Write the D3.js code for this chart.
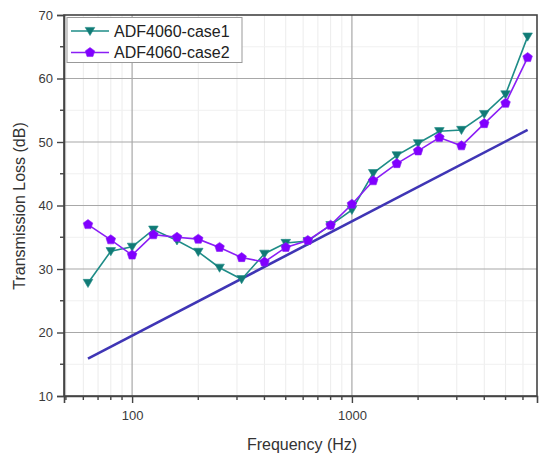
<!DOCTYPE html>
<html>
<head>
<meta charset="utf-8">
<script src="https://cdn.jsdelivr.net/npm/d3@7"></script>
<style>
  body { margin: 0; background: #fff; }
  text { font-family: "Liberation Sans", Arial, sans-serif; }
</style>
</head>
<body>
<svg id="chart" width="542" height="458"></svg>
<script>
// third-octave band centres (Hz)
let freqs = [63, 80, 100, 125, 160, 200, 250, 315, 400, 500, 630, 800, 1000, 1250, 1600, 2000, 2500, 3150, 4000, 5000, 6300];
let case1 = [27.8, 32.8, 33.5, 36.2, 34.5, 32.7, 30.2, 28.4, 32.4, 34.1, 34.4, 36.9, 39.3, 45.1, 47.9, 49.8, 51.7, 51.9, 54.4, 57.5, 66.6];
let case2 = [37.0, 34.6, 32.2, 35.4, 35.0, 34.7, 33.4, 31.8, 31.1, 33.4, 34.5, 36.9, 40.2, 43.9, 46.6, 48.6, 50.7, 49.4, 52.9, 56.1, 63.3];
let massFreqs = [63, 6300];
let massLaw = [15.9, 51.9];
let seriesNames = ['ADF4060-case1', 'ADF4060-case2'];
let yTicks = [10, 20, 30, 40, 50, 60, 70];
let xTickLabels = [100, 1000];

let margin = {left: 64, top: 15, right: 5, bottom: 62};
let W = 542, H = 458;
let svg = d3.select('#chart');

let x = d3.scaleLog().domain([49, 6950]).range([margin.left, W - margin.right]);
let y = d3.scaleLinear().domain([10, 70]).range([H - margin.bottom, margin.top]);

let minorX = [];
[10, 100, 1000].forEach(function(dec) {
	for (let k = 1; k <= 9; k++) {
		let v = dec * k;
		if (v > 49 && v < 6950 && k != 1) minorX.push(v);
	}
});
let minorY = [15, 25, 35, 45, 55, 65];

let grid = svg.append('g');
// minor grid
grid.selectAll('line.mx').data(minorX).enter().append('line')
	.attr('x1', d => x(d)).attr('x2', d => x(d))
	.attr('y1', y(10)).attr('y2', y(70))
	.attr('stroke', '#ececec').attr('stroke-width', 1);
grid.selectAll('line.my').data(minorY).enter().append('line')
	.attr('x1', x.range()[0]).attr('x2', x.range()[1])
	.attr('y1', d => y(d)).attr('y2', d => y(d))
	.attr('stroke', '#f0f0f0').attr('stroke-width', 1);
// major grid
grid.selectAll('line.gx').data(xTickLabels).enter().append('line')
	.attr('x1', d => x(d)).attr('x2', d => x(d))
	.attr('y1', y(10)).attr('y2', y(70))
	.attr('stroke', '#a8a8a8').attr('stroke-width', 1.2);
grid.selectAll('line.gy').data(yTicks.slice(1, -1)).enter().append('line')
	.attr('x1', x.range()[0]).attr('x2', x.range()[1])
	.attr('y1', d => y(d)).attr('y2', d => y(d))
	.attr('stroke', '#a8a8a8').attr('stroke-width', 1.2);

// mass law line
let line = d3.line().x(d => x(d[0])).y(d => y(d[1]));
svg.append('path')
	.attr('d', line(massFreqs.map((f, i) => [f, massLaw[i]])))
	.attr('fill', 'none').attr('stroke', '#3f35b5').attr('stroke-width', 2.6);

let colors = ['#1e8c87', '#8a1ef5'];
let markFill = ['#117a75', '#8000ff'];
let triDown = d3.symbol().type({draw: function(ctx, size) {
	let r = Math.sqrt(size) * 0.62;
	ctx.moveTo(-r, -r * 0.75);
	ctx.lineTo(r, -r * 0.75);
	ctx.lineTo(0, r * 0.95);
	ctx.closePath();
}}).size(60);
let pent = d3.symbol().type({draw: function(ctx, size) {
	let r = Math.sqrt(size) * 0.6;
	for (let i = 0; i < 5; i++) {
		let a = -Math.PI / 2 + i * 2 * Math.PI / 5;
		if (i == 0) ctx.moveTo(r * Math.cos(a), r * Math.sin(a));
		else ctx.lineTo(r * Math.cos(a), r * Math.sin(a));
	}
	ctx.closePath();
}}).size(70);
let shapes = [triDown, pent];

[case1, case2].forEach(function(vals, s) {
	let pts = freqs.map((f, i) => [f, vals[i]]);
	let g = svg.append('g');
	g.append('path').attr('d', line(pts))
		.attr('fill', 'none').attr('stroke', colors[s]).attr('stroke-width', 1.6);
	g.selectAll('path.m').data(pts).enter().append('path')
		.attr('d', shapes[s])
		.attr('transform', d => 'translate(' + x(d[0]) + ',' + y(d[1]) + ')')
		.attr('fill', markFill[s]).attr('stroke', colors[s]).attr('stroke-width', 0.6);
});

// frame
svg.append('rect')
	.attr('x', x.range()[0]).attr('y', y(70))
	.attr('width', x.range()[1] - x.range()[0]).attr('height', y(10) - y(70))
	.attr('fill', 'none').attr('stroke', '#444').attr('stroke-width', 1.6);

// axes
let xAxis = d3.axisBottom(x).tickValues(xTickLabels).tickFormat(d3.format('d')).tickSize(7).tickPadding(8);
let gx = svg.append('g').attr('transform', 'translate(0,' + y(10) + ')').call(xAxis);
gx.selectAll('.tick').data(minorX.concat([]), d => d);
svg.append('g').attr('transform', 'translate(0,' + y(10) + ')')
	.selectAll('line').data(minorX).enter().append('line')
	.attr('x1', d => x(d)).attr('x2', d => x(d)).attr('y1', 0).attr('y2', 4)
	.attr('stroke', '#444').attr('stroke-width', 1.4);

let yAxis = d3.axisLeft(y).tickValues(yTicks).tickSize(7).tickPadding(4);
let gy = svg.append('g').attr('transform', 'translate(' + x.range()[0] + ',0)').call(yAxis);
svg.append('g').attr('transform', 'translate(' + x.range()[0] + ',0)')
	.selectAll('line').data(minorY).enter().append('line')
	.attr('x1', 0).attr('x2', -4).attr('y1', d => y(d)).attr('y2', d => y(d))
	.attr('stroke', '#444').attr('stroke-width', 1.4);

[gx, gy].forEach(function(g) {
	g.select('.domain').attr('stroke', '#444').attr('stroke-width', 1.6);
	g.selectAll('.tick line').attr('stroke', '#444').attr('stroke-width', 1.4);
	g.selectAll('.tick text').attr('fill', '#3a3a3a').style('font-size', '13px')
		.style('font-family', '"Liberation Sans", Arial, sans-serif');
});

// titles
svg.append('text').attr('x', 302).attr('y', 450).attr('text-anchor', 'middle')
	.attr('fill', '#333').style('font-size', '16px').text('Frequency (Hz)');
svg.append('text').attr('transform', 'translate(25,206) rotate(-90)').attr('text-anchor', 'middle')
	.attr('fill', '#333').style('font-size', '16px').text('Transmission Loss (dB)');

// legend
let lg = svg.append('g');
lg.append('rect').attr('x', 67).attr('y', 17.5).attr('width', 175).attr('height', 45)
	.attr('fill', '#fff').attr('stroke', '#999').attr('stroke-width', 1);
seriesNames.forEach(function(name, s) {
	let cy = 31 + s * 21.5;
	lg.append('line').attr('x1', 71).attr('x2', 109).attr('y1', cy).attr('y2', cy)
		.attr('stroke', colors[s]).attr('stroke-width', 1.6);
	lg.append('path').attr('d', shapes[s]).attr('transform', 'translate(90,' + cy + ')')
		.attr('fill', markFill[s]).attr('stroke', colors[s]).attr('stroke-width', 0.6);
	lg.append('text').attr('x', 114).attr('y', cy + 5.5).attr('fill', '#222')
		.style('font-size', '16px').text(name);
});
</script>
</body>
</html>
